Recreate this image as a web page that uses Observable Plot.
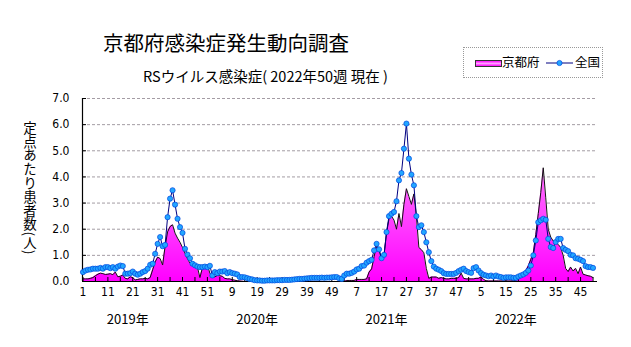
<!DOCTYPE html>
<html>
<head>
<meta charset="utf-8">
<script src="https://cdn.jsdelivr.net/npm/d3@7"></script>
<script src="https://cdn.jsdelivr.net/npm/@observablehq/plot@0.6"></script>
<style>
  body { margin: 0; background: #fff; }
  #wrap { position: relative; width: 631px; height: 347px; font-family: "Noto Sans CJK JP", sans-serif; color: #000; overflow: hidden; }
  #wrap svg { position: absolute; left: 0; top: 0; }
  .ov { position: absolute; white-space: nowrap; }
</style>
</head>
<body>
<div id="wrap"></div>
<script>
// ---- data (per-week values, 52 weeks per year, 2022 up to week 50) ----
const years = ["2019年", "2020年", "2021年", "2022年"];
const seriesNames = ["京都府", "全国"];
const weekTickLabels = ["1","11","21","31","41","51","9","19","29","39","49","7","17","27","37","47","5","15","25","35","45"];
const yTickValues = [0, 1, 2, 3, 4, 5, 6, 7];

const kyoto2019 = [0.10,0.10,0.10,0.12,0.15,0.22,0.28,0.32,0.30,0.27, 0.28,0.30,0.26,0.36,0.18,0.20,0.25,0.12,0.10,0.18, 0.15,0.06,0.08,0.10,0.10,0.12,0.10,0.15,0.45,0.75, 0.93,0.88,0.63,1.34,1.90,2.10,2.17,1.85,1.66,1.50, 1.30,1.08,0.87,0.70,0.62,0.58,0.55,0.15,0.52,0.60, 0.62,0.32];
const kyoto2020 = [0.17,0.18,0.23,0.22,0.20,0.12,0.10,0.10,0.07,0.05, 0.03,0.02,0.01,0,0,0,0,0,0,0, 0,0,0,0,0,0,0,0,0,0, 0,0,0,0,0,0,0,0,0,0, 0,0,0,0,0,0,0,0,0,0, 0,0];
const kyoto2021 = [0,0,0.04,0.04,0.04,0.04,0.08,0.08,0.08,0.08, 0.10,0.36,0.48,0.95,1.35,1.20,0.85,1.00,1.85,2.40, 2.50,2.35,2.00,2.60,2.10,2.95,3.55,3.25,2.95,3.35, 2.50,1.30,1.22,1.10,0.50,0.12,0.17,0.17,0.17,0.12, 0.15,0.12,0.10,0.10,0.12,0.12,0.12,0.15,0.32,0.12, 0.10,0.10];
const kyoto2022 = [0.10,0.10,0.12,0.12,0.18,0.08,0.03,0.02,0.02,0.02, 0.02,0.02,0.02,0.02,0.02,0.02,0.02,0.03,0.05,0.12, 0.20,0.30,0.42,0.60,0.85,1.10,1.80,2.60,3.40,4.35, 3.20,2.00,1.70,1.55,1.50,1.42,1.30,1.00,0.50,0.38, 0.55,0.40,0.50,0.30,0.55,0.28,0.25,0.22,0.20,0.15];

const national2019 = [0.36,0.42,0.45,0.46,0.49,0.49,0.49,0.52,0.49,0.55, 0.55,0.51,0.55,0.49,0.57,0.61,0.59,0.30,0.30,0.32, 0.38,0.30,0.26,0.30,0.36,0.40,0.49,0.64,0.68,1.06, 1.44,1.70,1.35,1.40,2.46,3.17,3.49,2.94,2.40,2.08, 1.86,1.25,1.03,0.89,0.68,0.62,0.57,0.55,0.55,0.57, 0.55,0.60];
const national2020 = [0.23,0.36,0.32,0.38,0.38,0.40,0.32,0.36,0.32,0.30, 0.27,0.17,0.17,0.16,0.13,0.10,0.08,0.05,0.04,0.04, 0.03,0.03,0.04,0.04,0.04,0.04,0.05,0.05,0.05,0.06, 0.06,0.06,0.07,0.08,0.09,0.10,0.10,0.11,0.12,0.13, 0.14,0.14,0.14,0.14,0.15,0.14,0.15,0.15,0.16,0.17, 0.17,0.12];
const national2021 = [0.10,0.23,0.30,0.30,0.33,0.38,0.46,0.49,0.59,0.61, 0.72,0.78,0.83,1.19,1.44,1.23,0.89,1.02,1.89,2.50, 2.59,2.66,3.07,3.87,4.15,5.08,6.04,4.70,4.09,3.68, 2.50,2.08,2.15,1.89,1.50,1.12,0.78,0.57,0.49,0.45, 0.40,0.32,0.29,0.29,0.29,0.29,0.33,0.40,0.45,0.49, 0.40,0.36];
const national2022 = [0.33,0.51,0.55,0.42,0.32,0.26,0.23,0.20,0.23,0.19, 0.23,0.19,0.17,0.14,0.16,0.16,0.16,0.14,0.14,0.19, 0.23,0.27,0.33,0.42,0.61,1.00,1.57,2.27,2.34,2.40, 2.36,1.63,1.32,1.28,1.51,1.63,1.63,1.28,1.21,1.16, 1.02,1.00,0.89,0.87,0.83,0.78,0.59,0.55,0.55,0.52];

// ---- build table ----
const kyotoByYear = [kyoto2019, kyoto2020, kyoto2021, kyoto2022];
const nationalByYear = [national2019, national2020, national2021, national2022];
const WEEKS = 52;
const rows = nationalByYear.flatMap((arr, yi) =>
  arr.map((v, w) => ({ i: yi * WEEKS + w, national: v, kyoto: kyotoByYear[yi][w] })));
const yearRows = years.map((label, yi) => ({ label, i: yi * WEEKS + 18 }));

const numFont = '"Liberation Sans Narrow", "DejaVu Sans Condensed", "Noto Sans CJK JP", sans-serif';
const xDomain = [-0.2, 206.8];

const defs = () => {
  const d = d3.create("svg:defs");
  const g = d.append("linearGradient").attr("id", "kgrad").attr("x1", 0).attr("y1", 0).attr("x2", 0).attr("y2", 1);
  g.append("stop").attr("offset", "0%").attr("stop-color", "#ff70ff");
  g.append("stop").attr("offset", "50%").attr("stop-color", "#ff3cff");
  g.append("stop").attr("offset", "100%").attr("stop-color", "#ff00ff");
  return d.node();
};

const chart = Plot.plot({
  width: 631, height: 347,
  marginLeft: 82, marginRight: 34, marginTop: 98, marginBottom: 66,
  x: { domain: xDomain, axis: null, label: null },
  y: { domain: [0, 7], axis: null, label: null },
  style: { fontFamily: numFont, fontSize: "12px", background: "transparent", color: "#000", overflow: "visible" },
  marks: [
    defs,
    Plot.ruleY(yTickValues.slice(1), { stroke: "#a49ca4", strokeOpacity: 1, strokeDasharray: "3,2" }),
    Plot.areaY(rows, { x: "i", y: "kyoto", fill: "url(#kgrad)" }),
    Plot.lineY(rows, { x: "i", y: "kyoto", stroke: "#111", strokeWidth: 1 }),
    Plot.ruleX([xDomain[0]], { stroke: "#000", strokeWidth: 1.2 }),
    Plot.ruleY([0], { stroke: "#000", strokeWidth: 1.2 }),
    Plot.axisY({ ticks: yTickValues, tickSize: 0, tickPadding: 13, tickFormat: d => d.toFixed(1), fontSize: 12, label: null }),
    Plot.axisY({ ticks: yTickValues, tickSize: 4, dx: 4, tickFormat: () => "", label: null }),
    Plot.axisX({ ticks: d3.range(0, 206, 5), tickSize: 4, dy: -4, tickFormat: () => "", label: null }),
    Plot.axisX({ ticks: d3.range(0, 201, 10), tickSize: 0, tickPadding: 6, tickFormat: d => weekTickLabels[Math.round(d / 10)], fontSize: 12, label: null }),
    Plot.lineY(rows, { x: "i", y: "national", stroke: "#000080", strokeWidth: 1 }),
    Plot.dot(rows, { x: "i", y: "national", r: 2.6, fill: "#22a6ff", stroke: "#0046e0", strokeWidth: 0.7 }),
    Plot.text(yearRows, { x: "i", text: "label", frameAnchor: "bottom", dy: 42, fontSize: 13, fontFamily: '"Noto Sans CJK JP", sans-serif' })
  ]
});

const wrap = document.getElementById("wrap");
wrap.appendChild(chart);

function ov(html, style) {
  const el = document.createElement("div");
  el.className = "ov";
  el.innerHTML = html;
  Object.assign(el.style, style);
  wrap.appendChild(el);
  return el;
}
ov("京都府感染症発生動向調査", { left: "103px", top: "29px", fontSize: "20.5px", lineHeight: "26px" });
ov("RSウイルス感染症( 2022年50週 現在 )", { left: "143px", top: "66px", fontSize: "14.5px", lineHeight: "20px" });
ov("定点あたり患者数(人)", { left: "20px", top: "121px", fontSize: "13.5px", writingMode: "vertical-rl", lineHeight: "20px", letterSpacing: "0.3px" });

const lg = ov("", { left: "463px", top: "47px", width: "140px", height: "31px", border: "1px dotted #999", boxSizing: "border-box", background: "#fff" });
lg.innerHTML = `
  <div style="position:absolute;left:11px;top:12px;width:25px;height:5px;border:1px solid #333;background:linear-gradient(#ff00ff,#ffa0ff,#ff00ff)"></div>
  <div style="position:absolute;left:38px;top:5px;font-size:12.5px;line-height:18px">${seriesNames[0]}</div>
  <svg style="position:absolute;left:82px;top:9px" width="27" height="12"><line x1="0" y1="6" x2="27" y2="6" stroke="#000080" stroke-width="1"/><circle cx="13.5" cy="6" r="2.6" fill="#22a6ff" stroke="#0046e0" stroke-width="0.7"/></svg>
  <div style="position:absolute;left:111px;top:5px;font-size:12.5px;line-height:18px">${seriesNames[1]}</div>`;
</script>
</body>
</html>
